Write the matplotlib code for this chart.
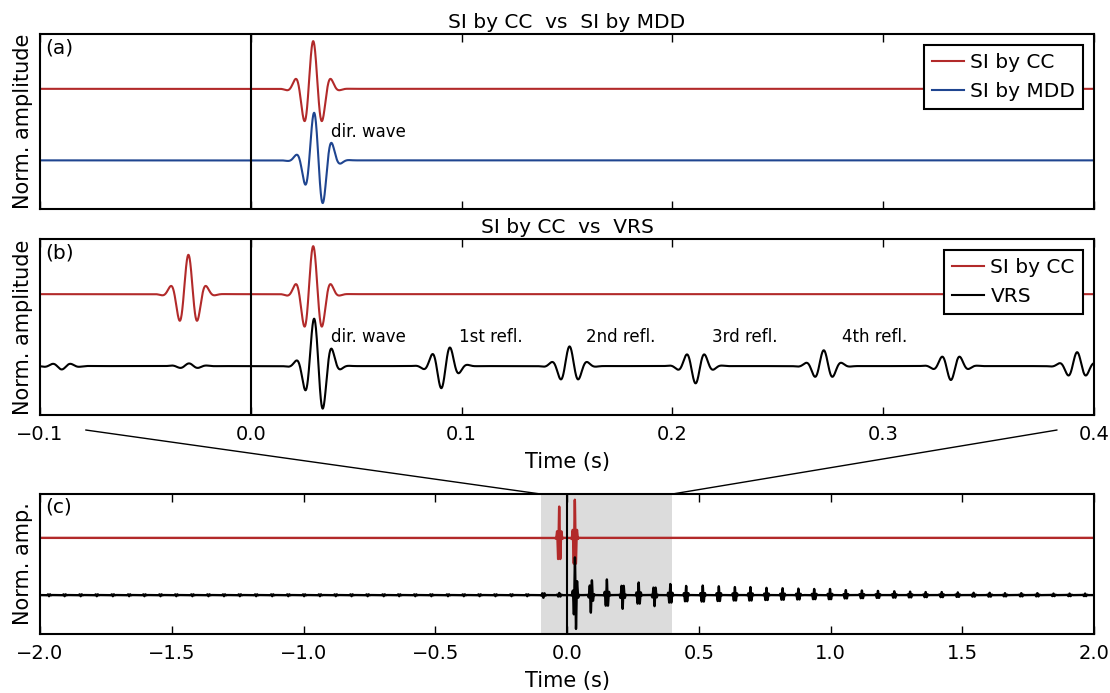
import matplotlib
matplotlib.use('Agg')
import matplotlib.pyplot as plt
import numpy as np
from matplotlib.patches import ConnectionPatch

# wavelet shape (peak-to-trough ~0.0044 s)
FREQ = 113.0      # Hz
WIDTH = 0.0068    # s, gaussian envelope

# SI by CC: acausal and causal direct wave
cc_times = [-0.0296, 0.0296]
cc_amps = [0.82, 1.0]
cc_phases = [0, 0]

# SI by MDD: direct wave (asymmetric, envelope a bit later than the peak)
mdd_times = [0.0315]
mdd_amps = [1.05]
mdd_phases = [65]

# VRS: direct wave + reflections (envelope centre, amplitude, phase in deg)
vrs_times = [0.0315, 0.0915, 0.1512, 0.211, 0.2718, 0.3321, 0.392,
             0.452, 0.515, 0.576, 0.637, 0.696, 0.757, 0.818, 0.878,
             0.938, 0.998, 1.058, 1.119, 1.180, 1.242, 1.302, 1.361,
             1.422, 1.483, 1.543, 1.604, 1.662, 1.724, 1.785, 1.846,
             1.907, 1.966]
vrs_amps = [1.04, 0.475, 0.41, 0.36, 0.33, 0.29, 0.29,
            0.24, 0.25, 0.23, 0.21, 0.21, 0.19, 0.18, 0.17,
            0.16, 0.16, 0.13, 0.12, 0.11, 0.10, 0.09, 0.08,
            0.08, 0.07, 0.06, 0.06, 0.05, 0.05, 0.05, 0.04,
            0.04, 0.04]
vrs_phases = [65, -130, 0, 180, 0, 180, 0] + [0] * 26

# small acausal leftovers in the VRS
vrs_neg_times = [-0.0293, -0.0897] + [-t for t in vrs_times[2:]]
vrs_neg_amps = [0.056, 0.07] + [0.03] * (len(vrs_times) - 2)
vrs_neg_phases = [0, 180] + [180] * (len(vrs_times) - 2)

labels_b = ['dir. wave', '1st refl.', '2nd refl.', '3rd refl.', '4th refl.']
labels_b_x = [0.038, 0.0988, 0.159, 0.219, 0.2805]

RED = '#b22a2a'
BLUE = '#1f4590'
OFFSET = 1.5


def trace(t, times, amps, phases):
    out = np.zeros_like(t)
    for t0, a, ph in zip(times, amps, phases):
        d = t - t0
        out += a * np.exp(-(d / WIDTH) ** 2) * np.cos(2 * np.pi * FREQ * d + np.deg2rad(ph))
    return out


def style(ax):
    ax.set_yticks([])
    ax.set_ylim(-1.02, 2.65)
    ax.tick_params(axis='x', direction='in', top=True, length=6, width=1,
                   labelsize=14, pad=7)
    for s in ax.spines.values():
        s.set_linewidth(1.5)
    ax.axvline(0, color='k', lw=1.5)


def main():
    t = np.arange(-2.0, 2.0 + 0.00005, 0.0001)
    cc = trace(t, cc_times, cc_amps, cc_phases)
    cc_causal = trace(t, cc_times[1:], cc_amps[1:], cc_phases[1:])
    mdd = trace(t, mdd_times, mdd_amps, mdd_phases)
    vrs = trace(t, vrs_times, vrs_amps, vrs_phases) + \
        trace(t, vrs_neg_times, vrs_neg_amps, vrs_neg_phases)

    fig = plt.figure(figsize=(11.1, 6.93), dpi=100)
    ax_a = fig.add_axes([0.03604, 0.69841, 0.94955, 0.25253])
    ax_b = fig.add_axes([0.03604, 0.40115, 0.94955, 0.25397])
    ax_c = fig.add_axes([0.03604, 0.08514, 0.94955, 0.20202])

    leg_kw = dict(loc='upper right', fontsize=14.5, fancybox=False,
                  edgecolor='k', framealpha=1, handlelength=1.6,
                  handletextpad=0.3, borderaxespad=0.55)

    # (a)
    ax_a.plot(t, cc_causal + OFFSET, color=RED, lw=1.5, label='SI by CC')
    ax_a.plot(t, mdd, color=BLUE, lw=1.5, label='SI by MDD')
    ax_a.set_xlim(-0.1, 0.4)
    style(ax_a)
    ax_a.set_xticks([-0.1, 0.0, 0.1, 0.2, 0.3, 0.4])
    ax_a.set_xticklabels([])
    ax_a.set_title('SI by CC  vs  SI by MDD', fontsize=14.5, pad=4)
    ax_a.set_ylabel('Norm. amplitude', fontsize=15, labelpad=5)
    ax_a.text(0.038, 0.5, 'dir. wave', fontsize=12, va='baseline')
    ax_a.text(0.005, 0.975, '(a)', transform=ax_a.transAxes, fontsize=14.5, va='top')
    lg = ax_a.legend(**leg_kw)
    lg.get_frame().set_linewidth(1.5)

    # (b)
    ax_b.plot(t, cc + OFFSET, color=RED, lw=1.5, label='SI by CC')
    ax_b.plot(t, vrs, color='k', lw=1.5, label='VRS')
    ax_b.set_xlim(-0.1, 0.4)
    style(ax_b)
    ax_b.set_xticks([-0.1, 0.0, 0.1, 0.2, 0.3, 0.4])
    ax_b.set_title('SI by CC  vs  VRS', fontsize=14.5, pad=4)
    ax_b.set_ylabel('Norm. amplitude', fontsize=15, labelpad=5)
    ax_b.set_xlabel('Time (s)', fontsize=15, labelpad=6)
    for x, s in zip(labels_b_x, labels_b):
        ax_b.text(x, 0.5, s, fontsize=12, va='baseline')
    ax_b.text(0.005, 0.975, '(b)', transform=ax_b.transAxes, fontsize=14.5, va='top')
    lg = ax_b.legend(**leg_kw)
    lg.get_frame().set_linewidth(1.5)

    # (c)
    ax_c.axvspan(-0.1, 0.4, color='#dcdcdc', lw=0, zorder=0)
    ax_c.plot(t, cc + OFFSET, color=RED, lw=1.7)
    ax_c.plot(t, vrs, color='k', lw=1.7)
    ax_c.set_xlim(-2.0, 2.0)
    style(ax_c)
    ax_c.set_xticks(np.arange(-2.0, 2.01, 0.5))
    ax_c.set_ylabel('Norm. amp.', fontsize=15, labelpad=5)
    ax_c.set_xlabel('Time (s)', fontsize=15, labelpad=6)
    ax_c.text(0.005, 0.975, '(c)', transform=ax_c.transAxes, fontsize=14.5, va='top')

    # zoom connectors from panel (b) to the shaded window in (c)
    for xa, xb in [(0.0772, -0.1), (0.9523, 0.4)]:
        con = ConnectionPatch(xyA=(xa, 0.3795), coordsA='figure fraction',
                              xyB=(xb, 1.0), coordsB=ax_c.get_xaxis_transform(),
                              color='k', lw=1.0)
        fig.add_artist(con)

    fig.savefig('out.png', dpi=100, facecolor='white')


if __name__ == '__main__':
    main()
